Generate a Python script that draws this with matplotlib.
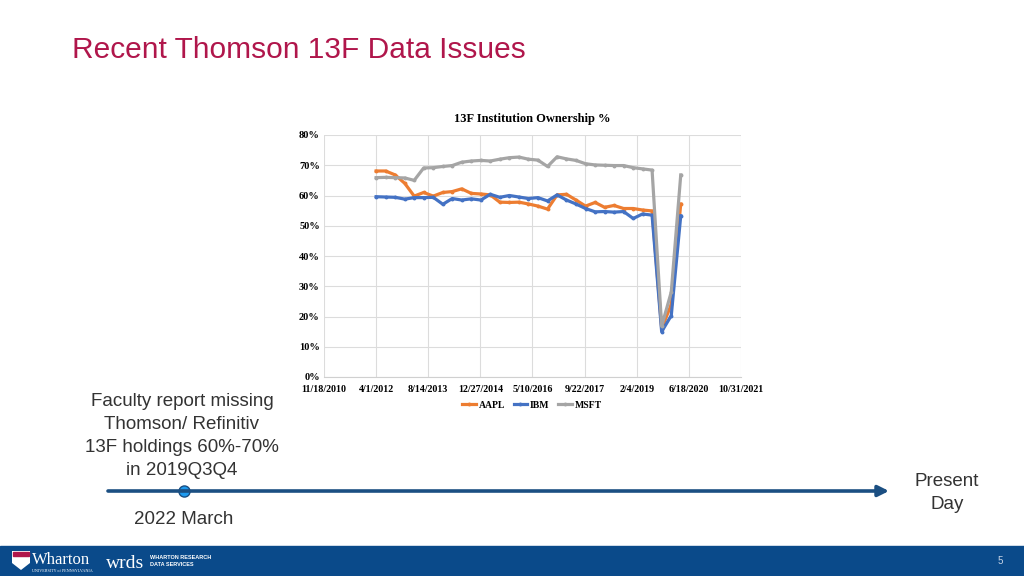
import matplotlib
matplotlib.use("Agg")
import matplotlib.pyplot as plt
from matplotlib.patches import Rectangle, Polygon
import pandas as pd

# quarterly values, 2012Q1 .. 2020Q1
quarters = pd.period_range("2012Q1", "2020Q1", freq="Q").to_timestamp(how="end")
aapl = [68.1, 68.1, 66.8, 64.0, 59.8, 61.0, 59.8, 61.0, 61.3, 62.2, 60.7,
        60.5, 60.2, 57.8, 57.7, 57.8, 57.2, 56.5, 55.5, 60.2, 60.4, 58.5,
        56.5, 57.7, 56.1, 56.7, 55.7, 55.7, 55.2, 54.9, 16.0, 24.0, 57.2]
ibm = [59.6, 59.5, 59.4, 58.8, 59.3, 59.3, 59.4, 57.1, 59.0, 58.5, 58.9,
       58.5, 60.4, 59.4, 60.0, 59.5, 59.0, 59.3, 58.2, 60.2, 58.5, 57.2,
       55.7, 54.6, 54.7, 54.5, 54.7, 52.4, 53.9, 53.5, 15.0, 20.3, 53.3]
msft = [65.9, 66.0, 65.9, 65.8, 65.0, 69.1, 69.2, 69.6, 69.9, 71.0, 71.4,
        71.6, 71.4, 72.0, 72.5, 72.7, 72.0, 71.7, 69.6, 72.8, 72.1, 71.6,
        70.5, 70.1, 70.0, 69.9, 69.9, 69.2, 68.8, 68.4, 16.8, 28.1, 66.8]
series_names = ["AAPL", "IBM", "MSFT"]
series_colors = ["#ED7D31", "#4472C4", "#A5A5A5"]

x_tick_labels = ["11/18/2010", "4/1/2012", "8/14/2013", "12/27/2014", "5/10/2016",
                 "9/22/2017", "2/4/2019", "6/18/2020", "10/31/2021"]
y_ticks = [0, 10, 20, 30, 40, 50, 60, 70, 80]

note_text = "Faculty report missing\nThomson/ Refinitiv\n13F holdings 60%-70%\nin 2019Q3Q4"

W, H = 1024, 576
fig = plt.figure(figsize=(W / 100, H / 100), dpi=100)

# slide background layer in pixel coordinates
bg = fig.add_axes([0, 0, 1, 1])
bg.set_xlim(0, W)
bg.set_ylim(H, 0)
bg.axis("off")

bg.text(72, 50, "Recent Thomson 13F Data Issues", color="#B0164B",
        fontsize=21.5, family="Liberation Sans", va="center", ha="left")

bg.text(182, 436, note_text, ha="center", va="center", fontsize=13.5,
        family="Liberation Sans", color="#333333", linespacing=1.45)
bg.annotate("", xy=(889, 491), xytext=(108, 491),
            arrowprops=dict(arrowstyle="-|>", color="#1B4F82", lw=2.6,
                            mutation_scale=16, shrinkA=0, shrinkB=0))
bg.plot(184, 491, "o", ms=8, mfc="#1E9BF0", mec="#1B4F82", mew=1)
bg.text(184, 520, "2022 March", ha="center", va="center", fontsize=13.5,
        family="Liberation Sans", color="#333333")
bg.text(947, 493, "Present\nDay", ha="center", va="center", fontsize=13.5,
        family="Liberation Sans", color="#333333", linespacing=1.45)

# footer band
bg.add_patch(Rectangle((0, 546), W, 30, color="#0A4A8A", zorder=1))
bg.add_patch(Polygon([(12, 551), (30, 551), (30, 563), (21, 570), (12, 563)],
                     closed=True, fc="#FFFFFF", ec="none", zorder=2))
bg.add_patch(Rectangle((13, 552), 16, 4, color="#B0164B", zorder=3))
bg.text(32, 560, "Wharton", color="white", fontsize=12, family="Liberation Serif",
        va="center", ha="left", zorder=3)
bg.text(32, 571, "UNIVERSITY of PENNSYLVANIA", color="white", fontsize=3,
        family="Liberation Serif", va="center", ha="left", zorder=3)
bg.text(106, 563, "wrds", color="white", fontsize=14, family="Liberation Serif",
        va="center", ha="left", zorder=3)
bg.text(150, 561, "WHARTON RESEARCH\nDATA SERVICES", color="white", fontsize=4,
        family="Liberation Sans", weight="bold", va="center", ha="left",
        linespacing=1.3, zorder=3)
bg.text(1000, 561, "5", color="#C8D4E6", fontsize=7, family="Liberation Sans",
        va="center", ha="center", zorder=3)

# embedded Excel-style chart
ax = fig.add_axes([324 / W, 1 - 377 / H, (741 - 324) / W, (377 - 135) / H])
serif = dict(family="Liberation Serif", weight="bold")
for vals, name, col in zip([aapl, ibm, msft], series_names, series_colors):
    ax.plot(quarters, vals, color=col, lw=2.3, marker="o", ms=1.8, label=name,
            solid_joinstyle="round")

x_ticks = pd.to_datetime(x_tick_labels, format="%m/%d/%Y")
ax.set_xlim(x_ticks[0], x_ticks[-1])
ax.set_ylim(0, 80)
ax.set_xticks(x_ticks)
ax.set_xticklabels(x_tick_labels, fontsize=7.2, **serif)
ax.set_yticks(y_ticks)
ax.set_yticklabels([f"{v}%" for v in y_ticks], fontsize=7.5, **serif)
ax.tick_params(length=0, pad=3)
ax.tick_params(axis="x", pad=6)
ax.grid(True, color="#DCDCDC", lw=0.8)
ax.set_axisbelow(True)
for s in ax.spines.values():
    s.set_visible(False)
ax.spines["bottom"].set_visible(True)
ax.spines["bottom"].set_color("#D0D0D0")

fig.text(532 / W, 1 - 119 / H, "13F Institution Ownership %", ha="center",
         va="center", fontsize=9, **serif)
fig.legend(loc="center", bbox_to_anchor=(532 / W, 1 - 405 / H), ncol=3,
           frameon=False, handlelength=1.4, handletextpad=0.3, columnspacing=0.9,
           prop=dict(family="Liberation Serif", weight="bold", size=7))

fig.savefig("out.png", dpi=100)
